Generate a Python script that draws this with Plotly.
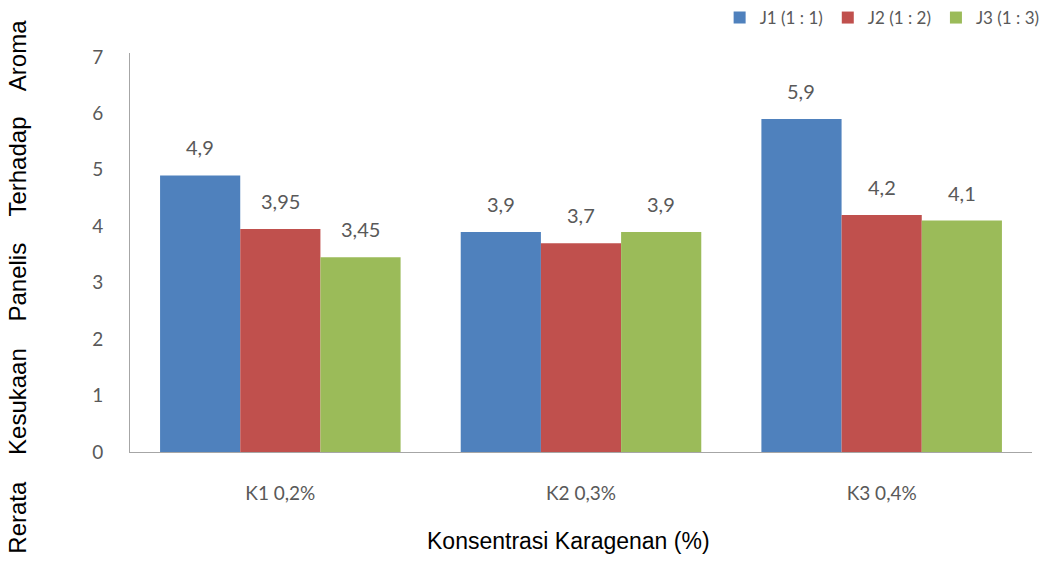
import plotly.graph_objects as go

categories = ["K1 0,2%", "K2 0,3%", "K3 0,4%"]
series_names = ["J1 (1 : 1)", "J2 (1 : 2)", "J3 (1 : 3)"]
j1_values = [4.9, 3.9, 5.9]
j2_values = [3.95, 3.7, 4.2]
j3_values = [3.45, 3.9, 4.1]
y_ticks = [0, 1, 2, 3, 4, 5, 6, 7]
y_title_words = ["Rerata", "Kesukaan", "Panelis", "Terhadap", "Aroma"]
x_title = "Konsentrasi Karagenan (%)"

colors = ["#4F81BD", "#C0504D", "#9BBB59"]
GRAY = "#595959"
BODY_FONT = "Lato, Open Sans, sans-serif"
TITLE_FONT = "Liberation Sans, Arial, sans-serif"
BARGAP = 0.2


def fmt(v):
    # decimal comma, as in the Indonesian labels
    return ("%g" % v).replace(".", ",")


all_series = [j1_values, j2_values, j3_values]

fig = go.Figure()
for name, vals, col in zip(series_names, all_series, colors):
    fig.add_trace(go.Bar(
        name=name,
        x=categories,
        y=vals,
        marker=dict(color=col, line=dict(width=0)),
    ))

# value labels above each bar, centred on the bar within its group
n_series = len(all_series)
slot = (1 - BARGAP) / n_series
annotations = []
for si, vals in enumerate(all_series):
    for ci, v in enumerate(vals):
        annotations.append(dict(
            x=ci + (si - (n_series - 1) / 2) * slot,
            y=v,
            xref="x", yref="y",
            text=fmt(v),
            showarrow=False,
            yanchor="bottom",
            yshift=14,
            font=dict(family=BODY_FONT, size=20, color=GRAY),
        ))

# axis titles
annotations.append(dict(
    text="\u00a0\u00a0\u00a0 ".join(y_title_words),
    textangle=-90,
    xref="paper", yref="paper",
    x=-0.125, y=0.415,
    xanchor="center", yanchor="middle",
    showarrow=False,
    font=dict(family=TITLE_FONT, size=24, color="#000000"),
))
annotations.append(dict(
    text=x_title,
    xref="paper", yref="paper",
    x=0.486, y=-0.222,
    xanchor="center", yanchor="middle",
    showarrow=False,
    font=dict(family=TITLE_FONT, size=23, color="#000000"),
))

fig.update_layout(
    width=1050,
    height=579,
    margin=dict(l=130, r=18, t=53, b=127, autoexpand=False),
    paper_bgcolor="white",
    plot_bgcolor="white",
    barmode="group",
    bargap=BARGAP,
    bargroupgap=0,
    annotations=annotations,
    showlegend=True,
    legend=dict(
        orientation="h",
        x=1.014, xanchor="right",
        y=1.0, yanchor="top",
        yref="container",
        font=dict(family=BODY_FONT, size=17, color=GRAY),
        traceorder="normal",
        bgcolor="rgba(0,0,0,0)",
        itemwidth=30,
    ),
    xaxis=dict(
        type="category",
        showline=True,
        linecolor="#A6A6A6",
        linewidth=1,
        showgrid=False,
        ticks="",
        ticklabelstandoff=24,
        tickfont=dict(family=BODY_FONT, size=19, color=GRAY),
    ),
    yaxis=dict(
        range=[0, 7.07],
        tickvals=y_ticks,
        showline=True,
        linecolor="#A6A6A6",
        linewidth=1,
        showgrid=False,
        zeroline=False,
        ticks="",
        ticklabelstandoff=22,
        tickfont=dict(family=BODY_FONT, size=19, color=GRAY),
    ),
)

fig.write_html("out.html")
